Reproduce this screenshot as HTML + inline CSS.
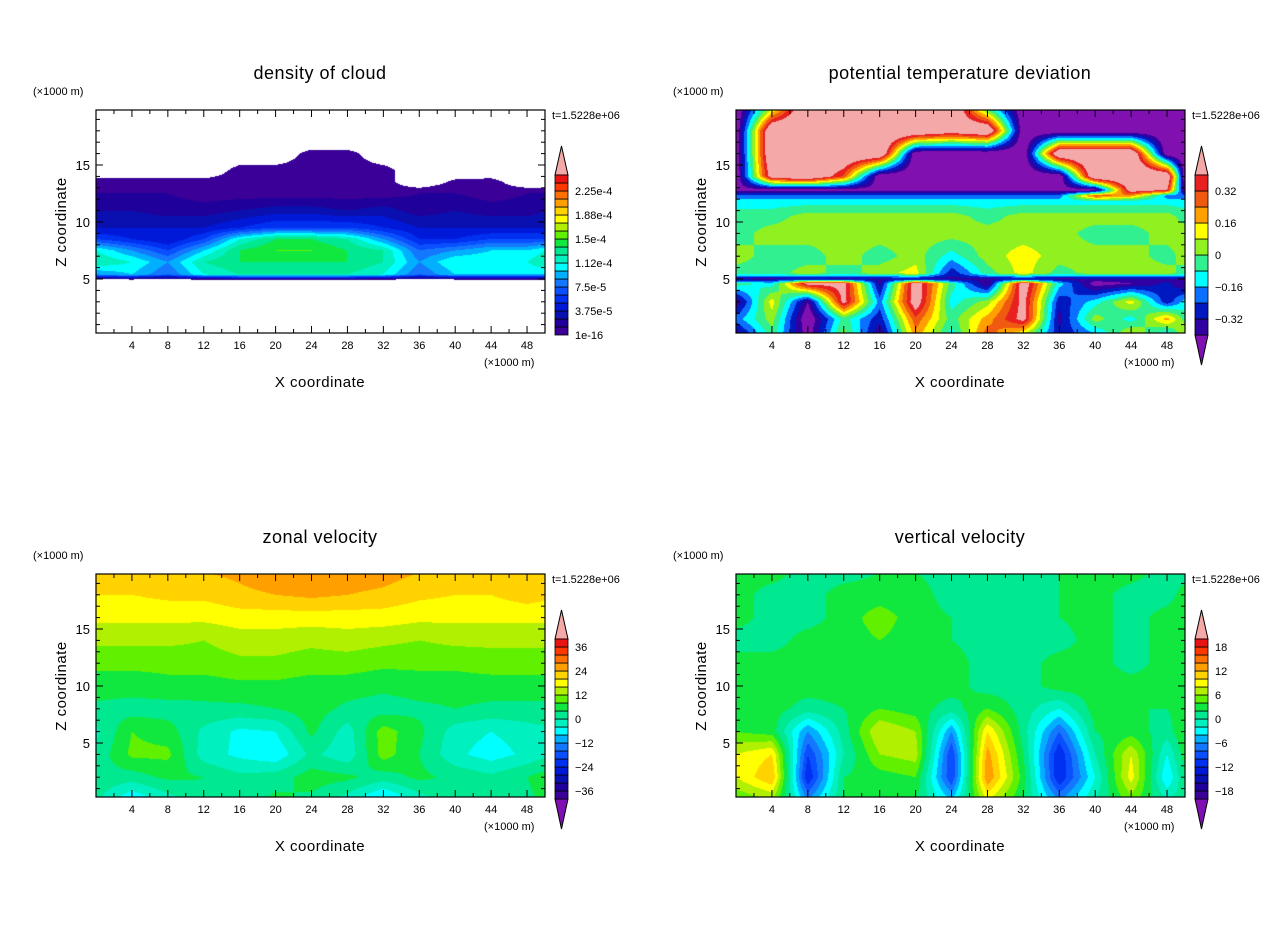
<!DOCTYPE html>
<html><head><meta charset="utf-8">
<style>
body{margin:0;background:#fff;width:1280px;height:926px;overflow:hidden;font-family:"Liberation Sans",sans-serif;}
#root{position:relative;width:1280px;height:926px;}
canvas{position:absolute;}
svg{position:absolute;left:0;top:0;}
text{font-family:"Liberation Sans",sans-serif;fill:#000;}
</style></head>
<body>
<div id="root">
<svg id="svg" width="1280" height="926"></svg>
</div>
<script>
// ---------- data ----------
const xCols=[0,4,8,12,16,20,24,28,32,36,40,44,48,50];
const titles=["density of cloud","potential temperature deviation","zonal velocity","vertical velocity"];
const timeLabel="t=1.5228e+06";
const xTicks=[4,8,12,16,20,24,28,32,36,40,44,48];
const zTicks=[5,10,15];
// panel 1 (units of 1.25e-5 kg/m3, <0 = blank)
const z1=[4.9,5.4,6.5,7.5,8.5,9.5,11,12.5,13.5,14.5,16,17];
const v1=[
[-1,-1,-1,-1,-1,-1,-1,-1,-1,-1,-1,-1,-1,-1],
[7,8,6,9,10,10,10,10,9,6,8,8,8,8],
[10,9,7,10,11,11,11,11,10,7,9,9,9,10],
[9,7,5,8,11,12,12,11,10,6,7,8,8,9],
[5,4,3,5,9,11,11,10,7,4,4,5,5,5],
[3,3,3,3,4,5,5,5,4,3,3,3,3,3],
[2,2,1.5,1.5,2,2.5,2.5,2,2.5,1.5,2,1.5,1.5,2],
[1,1,1,0.5,0.5,0.5,0.5,0.5,0.5,1,1,0.5,1,1],
[0.5,0.5,0.5,0.5,0.5,0.5,0.5,0.5,0.5,-1,0.3,0.5,-1,-1],
[-1,-1,-1,-1,0.5,0.5,0.5,0.5,0.5,-1,-1,-1,-1,-1],
[-1,-1,-1,-1,-1,-1,0.5,0.5,-1,-1,-1,-1,-1,-1],
[-1,-1,-1,-1,-1,-1,-1,-1,-1,-1,-1,-1,-1,-1]];
const levels1=["1e-16","3.75e-5","7.5e-5","1.12e-4","1.5e-4","1.88e-4","2.25e-4"];
// panel 2 (units of 0.01 K)
const z2=[0,1.5,3,4.6,5.0,5.5,7,9,10.5,11.8,12.3,12.8,14,16,18,19.8];
const v2=[
[-40,-4,-45,4,-40,20,-12,30,4,-30,-20,12,-20,12],
[-20,4,-50,-4,-30,30,-4,20,45,-35,4,-12,20,-4],
[-40,12,-40,45,-20,50,-12,4,45,-30,-12,12,-30,-12],
[-4,-12,45,45,-35,50,-4,-40,50,-12,-45,-40,-30,-40],
[-35,-35,-35,-35,-35,-35,-35,-35,-35,-35,-35,-35,-35,-35],
[-4,-4,4,-4,4,12,-30,-4,12,-4,4,4,4,-4],
[4,-4,-4,4,-4,4,-12,4,12,4,4,4,-4,4],
[-4,4,4,4,4,4,4,4,4,4,-4,-4,4,4],
[-4,-4,4,4,4,4,4,-4,4,4,4,4,4,-4],
[-12,-12,-12,-12,-12,-12,-12,-12,-12,-12,-12,-12,-12,-12],
[-20,-20,-20,-20,-20,-20,-20,-20,-20,-20,30,20,-20,-20],
[-45,-45,-45,-45,-45,-45,-45,-45,-45,-45,-45,50,40,-45],
[-50,50,60,30,-50,-50,-50,-50,-50,-50,60,60,60,-50],
[-50,60,60,60,60,-50,-50,-50,-50,60,60,60,-50,-50],
[-50,60,60,60,60,60,50,60,-50,-50,-50,-50,-50,-50],
[-50,10,60,60,60,60,60,0,-50,-50,-50,-50,-50,-50]];
const levels2=["0.32","0.16","0","\u22120.16","\u22120.32"];
// panel 3 (m/s)
const z3=[0,2,4,6,8,10,12,14,16,18,20];
const v3=[
[1,-8,-2,3,2,5,3,-2,-10,-2,2,3,3,5],
[3,2,5,4,1,2,6,5,2,5,3,1,4,6],
[1,9,9,-2,-5,-7,1,-3,10,4,-3,-6,-3,-1],
[-1,8,6,-1,-5,-4,5,-2,10,5,-2,-4,-2,-1],
[3,2,2,3,3,4,6,3,2,3,4,3,3,3],
[6,6,7,6,7,7,6,6,5,6,6,6,6,6],
[9,9,9,10,11,11,10,10,9,9,9,10,10,10],
[13,13,13,12,14,14,13,14,13,12,13,13,13,13],
[17,17,17,17,18,18,18,18,18,17,17,17,17,17],
[20,20,21,21,23,24,25,24,23,21,20,20,22,21],
[22,22,24,24,25,27,28,27,26,24,22,22,23,22]];
const levels3=["36","24","12","0","\u221212","\u221224","\u221236"];
// panel 4 (m/s)
const z4=[0,2,4,6,8,10,12,14,16,18,20];
const v4=[
[4,6,-6,2,2,2,-4,8,2,-6,0,5,0,1],
[8,12,-12,2,3,4,-10,14,3,-12,-2,9,-4,2],
[8,10,-10,0,6,7,-10,13,2,-12,0,8,-2,3],
[4,3,-6,1,8,6,-6,10,1,-8,2,3,1,4],
[3,3,1,2,4,3,1,4,1,-2,3,2,2,3],
[3,3,3,3,3,3,3,1,1,3,3,3,3,3],
[3,3,3,3,3,3,3,1,1,3,3,1,3,3],
[1,1,3,3,4,3,2,1,1,1,3,1,3,3],
[3,1,1,3,5,3,2,1,1,2,3,1,3,3],
[3,1,1,3,3,3,1,1,1,2,3,1,1,3],
[3,3,1,1,2,2,1,1,1,2,3,3,1,1]];
const levels4=["18","12","6","0","\u22126","\u221212","\u221218"];

// ---------- styling ----------
const C20=['#3a0098','#20009a','#0a10b0','#0018d8','#0030f0','#0a50ff','#1478ff','#00b0ff','#00ffff','#00f0c0','#00e890','#10e840','#60f000','#b0f000','#ffff00','#ffd200','#ffa000','#ff7000','#ff3800','#e81414'];
const C10=['#3000a0','#0018c0','#0a70ff','#00ffff','#30f090','#90f020','#ffff00','#ffa000','#f05a10','#e82020'];
const OVER='#f4a8a8',UNDER='#8010b0';
const panels=[
 {ox:0,oy:0,zs:z1,vals:v1,min:0,step:1,n:20,cols:C20,labels:levels1,under:null,blank:true,lblEvery:3},
 {ox:640,oy:0,zs:z2,vals:v2,min:-40,step:8,n:10,cols:C10,labels:levels2,under:UNDER,blank:false,lblEvery:2},
 {ox:0,oy:464,zs:z3,vals:v3,min:-40,step:4,n:20,cols:C20,labels:levels3,under:UNDER,blank:false,lblEvery:3},
 {ox:640,oy:464,zs:z4,vals:v4,min:-20,step:2,n:20,cols:C20,labels:levels4,under:UNDER,blank:false,lblEvery:3}];
const PX=96,PY=110,PW=449,PH=223;
function xPix(x){return PX+x*PW/50;}
function zPix(z){return 336-z*11.4;}
const svg=document.getElementById('svg');
const NS='http://www.w3.org/2000/svg';
function mk(tag,attrs,parent){const e=document.createElementNS(NS,tag);for(const k in attrs)e.setAttribute(k,attrs[k]);(parent||svg).appendChild(e);return e;}
function hex(c){return [parseInt(c.slice(1,3),16),parseInt(c.slice(3,5),16),parseInt(c.slice(5,7),16)];}

function sample(p,x,z){
  const zs=p.zs,v=p.vals;
  let i=0;while(i<xCols.length-2&&x>xCols[i+1])i++;
  let j=0;while(j<zs.length-2&&z>zs[j+1])j++;
  let tx=(x-xCols[i])/(xCols[i+1]-xCols[i]);tx=Math.max(0,Math.min(1,tx));
  let tz=(z-zs[j])/(zs[j+1]-zs[j]);tz=Math.max(0,Math.min(1,tz));
  return (v[j][i]*(1-tx)+v[j][i+1]*tx)*(1-tz)+(v[j+1][i]*(1-tx)+v[j+1][i+1]*tx)*tz;
}

panels.forEach((p,k)=>{
  const g=mk('g',{});
  
  
  const cv=document.createElement('canvas');
  cv.width=PW;cv.height=PH;cv.style.left=(PX+p.ox)+'px';cv.style.top=(PY+p.oy)+'px';
  
  
  document.getElementById('root').insertBefore(cv,svg);
  const ctx=cv.getContext('2d');const img=ctx.createImageData(PW,PH);
  const rgbs=p.cols.map(hex),ov=hex(OVER),un=p.under?hex(p.under):null;
  for(let py=0;py<PH;py++){const z=(336-(PY+py+0.5))/11.4;
    for(let px=0;px<PW;px++){const x=(px+0.5)*50/PW;
      const val=sample(p,x,z);let c;
      if(p.blank&&val<0)c=[255,255,255];
      else{let idx=Math.floor((val-p.min)/p.step);
        if(idx>=p.n)c=ov;else if(idx<0)c=un||rgbs[0];else c=rgbs[idx];}
      const o=(py*PW+px)*4;img.data[o]=c[0];img.data[o+1]=c[1];img.data[o+2]=c[2];img.data[o+3]=255;}}
  ctx.putImageData(img,0,0);
  const L=PX+p.ox,T=PY+p.oy,R=L+PW,B=T+PH;
  const frame=mk('rect',{x:L,y:T,width:PW,height:PH,fill:'none',stroke:'#000','stroke-width':1.2},g);
  
  
  for(let x=2;x<50;x+=2){const xp=xPix(x)+p.ox;const len=(x%4===0)?7:4;
    mk('line',{x1:xp,y1:B,x2:xp,y2:B-len,stroke:'#000'},g);mk('line',{x1:xp,y1:T,x2:xp,y2:T+len,stroke:'#000'},g);}
  xTicks.forEach(x=>{const t=mk('text',{x:xPix(x)+p.ox,y:B+16,'font-size':11,'text-anchor':'middle'},g);t.textContent=x;
    
    });
  for(let z=1;z<20;z++){const yp=zPix(z)+p.oy;const len=(z%5===0)?7:4;
    mk('line',{x1:L,y1:yp,x2:L+len,y2:yp,stroke:'#000'},g);mk('line',{x1:R,y1:yp,x2:R-len,y2:yp,stroke:'#000'},g);}
  zTicks.forEach(z=>{const t=mk('text',{x:L-6,y:zPix(z)+p.oy+5,'font-size':13,'text-anchor':'end'},g);t.textContent=z;
    
    });
  const ti=mk('text',{x:L+224,y:T-31,'font-size':18,'text-anchor':'middle','letter-spacing':'0.5'},g);ti.textContent=titles[k];
  
  
  const u1=mk('text',{x:L-63,y:T-15,'font-size':11},g);u1.textContent='(\u00d71000 m)';
  
  
  const u2=mk('text',{x:R-61,y:B+33,'font-size':11},g);u2.textContent='(\u00d71000 m)';
  
  
  const xt=mk('text',{x:L+224,y:B+54,'font-size':15,'text-anchor':'middle','letter-spacing':'0.5'},g);xt.textContent='X coordinate';
  
  
  const zt=mk('text',{x:0,y:0,'font-size':15,'text-anchor':'middle','letter-spacing':'0.5',transform:`translate(${L-30},${T+112}) rotate(-90)`},g);zt.textContent='Z coordinate';
  
  
  const tl=mk('text',{x:R+7,y:T+9,'font-size':11},g);tl.textContent=timeLabel;
  
  
  const cb=mk('g',{},g);
  
  
  const cx=L+PW+10,cw=13,ctop=T+65,cbot=T+225,bh=(cbot-ctop)/p.n;
  mk('polygon',{points:`${cx},${ctop} ${cx+cw},${ctop} ${cx+cw/2},${T+36}`,fill:OVER,stroke:'#000'},cb);
  if(p.under)mk('polygon',{points:`${cx},${cbot} ${cx+cw},${cbot} ${cx+cw/2},${cbot+30}`,fill:p.under,stroke:'#000'},cb);
  for(let i=0;i<p.n;i++){const y=cbot-(i+1)*bh;
    const r=mk('rect',{x:cx,y:y,width:cw,height:bh,fill:p.cols[i],stroke:'#000','stroke-width':0.8},cb);
    
    }
  p.labels.forEach((lab,i)=>{
    let y;
    if(k===0) y=cbot-i*p.lblEvery*bh;
    else if(k===1) y=ctop+bh+i*2*bh;
    else y=ctop+bh+i*3*bh;
    const t=mk('text',{x:cx+cw+7,y:y+4,'font-size':11},cb);t.textContent=lab;
    
    });
});
</script>
</body></html>
